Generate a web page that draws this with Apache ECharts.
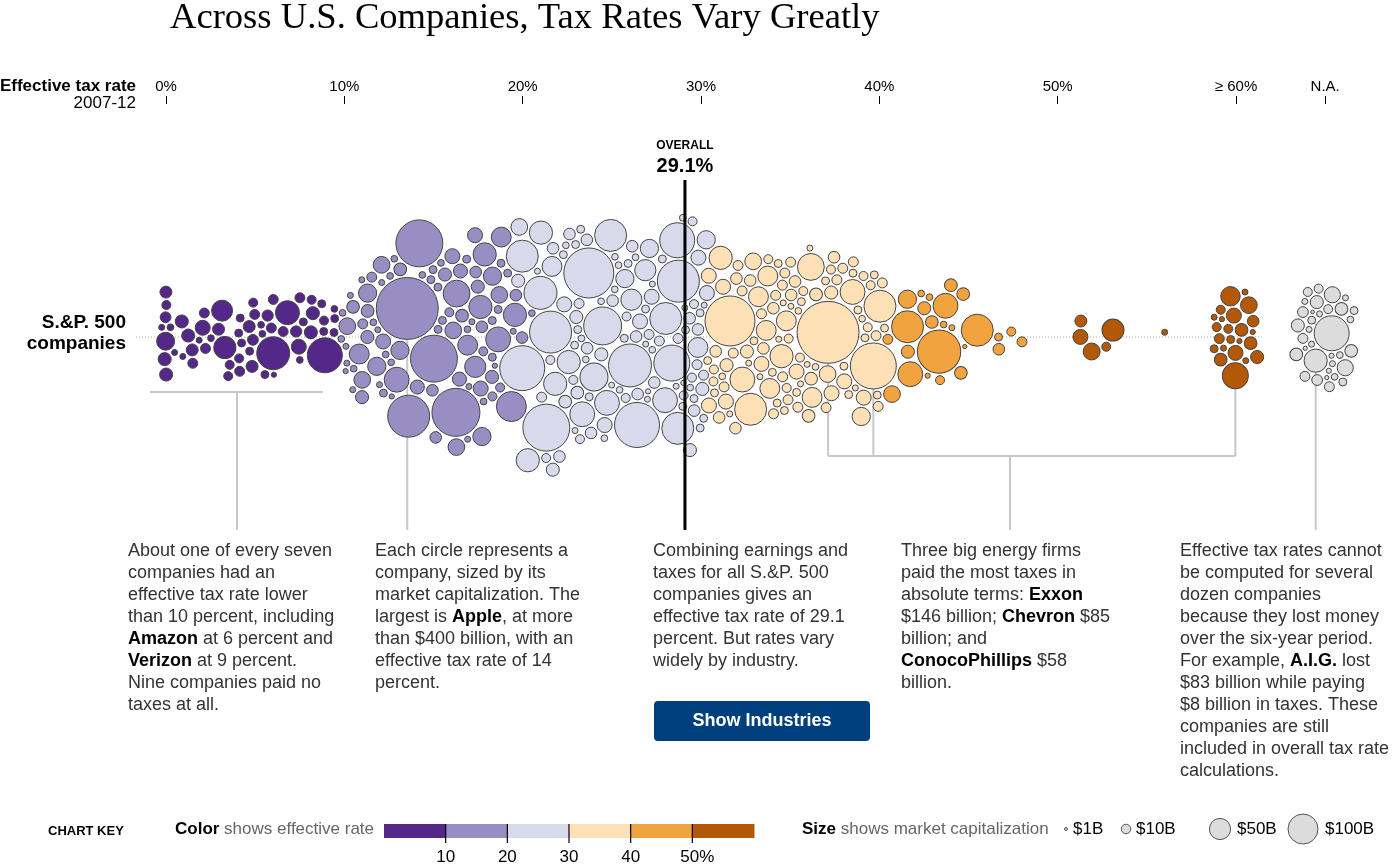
<!DOCTYPE html>
<html><head><meta charset="utf-8">
<script src="https://cdn.jsdelivr.net/npm/echarts@6/dist/echarts.min.js"></script>
<style>html,body{margin:0;padding:0;background:#fff}#chart{width:1400px;height:868px}</style>
</head><body><div id="chart"></div>
<script>
// ---------------- DATA (effective tax rate %, market cap $B) ----------------
// under 10%
const ratesA = [0,1.3,2.1,3.3,4.2,5.0,6.0,6.8,7.5,8.2, 9.4,0,0,0,1.5,0,1.0,0,0,0,
  0.9,1.5,1.9,2.3,2.1,2.8,2.9,3.5,3.1,3.6, 4.0,4.2,4.2,4.1,4.7,4.9,4.9,4.7,5.0,5.4,
  5.6,5.7,5.4,6.0,6.1,6.0,6.8,7.1,7.5,7.5, 7.6,8.3,8.2,8.9,8.5,8.9,9.0,9.5,9.6,0];
const capsA = [36,19,25,54,7,11,11,11,7,19, 7,4,13,4,11,16,4,19,9,19,
  19,16,4,11,11,5,16,9,49,9, 9,7,11,7,16,16,9,7,13,5,
  7,14,5,121,11,3,64,14,5,11, 25,19,9,136,7,9,7,5,7,5];
// 10-20%
const ratesB = [13.8,16.3,14.3,15.2,13.8,17.9,18.6,19.1,17.9,17.5, 18.8,16.1,16.9,18.8,19.7,18.3,11.0,12.0,11.7,13.1,
  13.3,10.5,11.2,12.2,12.4,11.6,11.2,11.0,10.8,16.2, 17.2,17.2,15.3,14.9,16.1,17.2,16.0,16.8,18.0,19.5,
  17.8,14.6,18.2,16.8,17.3,17.9,19.4,18.9,15.4,16.0, 15.8,14.8,14.0,13.2,14.5,15.5,16.5,17.5,17.2,18.5,
  12.8,12.6,13.0,12.7,12.6,11.4,10.3,10.0,10.4,10.8, 10.4,10.9,10.0,11.6,12.8,11.4,11.6,10.2,12.3,12.8,
  15.1,16.6,17.5,17.2,18.1,18.6,15.6,16.9,19.0,19.3, 16.5,14.5,17.8,18.3,19.1];
const capsB = [427,256,245,245,196,60,69,60,60,50, 44,80,44,31,100,37,44,37,37,69,
  37,31,31,31,25,19,18,19,18,31, 25,19,15,7,22,37,25,18,15,15,
  9,7,7,22,15,19,15,7,15,7, 9,22,18,5,7,19,31,25,9,7,
  5,4,5,4,5,4,4,5,5,4, 4,5,4,11,7,11,5,3,4,3,
  7,7,5,5,7,9,5,4,4,5, 4,5,4,3,7];
// 20-30%
const ratesC = [21.4,24.5,27.8,26.2,28.7,20.0,27.9,23.7,26.4,28.5, 21.8,20.8,24.9,28.7,20.1,24.2,23.1,21.1,21.8,22.5,
  26.4,27.9,25.6,26.6,24.5,27.6,20.6,21.7,26.1,24.9, 20.0,20.0,23.6,22.8,21.5,22.1,23.1,22.1,23.8,24.5,
  23.8,25.9,26.6,27.5,28.4,22.5,23.2,23.9,23.6,22.8, 21.6,23.4,23.7,22.1,21.5,21.9,24.7,25.4,25.6,26.2,
  26.9,25.9,26.6,25.4,24.9,26.3,25.6,24.9,23.5,23.3, 22.7,21.5,21.0,27.3,28.1,28.4,26.9,25.2,27.4,26.9,
  22.9,23.0,22.8,23.6,24.6,27.3,27.3,29.0,28.9,29.8, 26.0,24.6,27.7,
  29.2,29.9,29.6,29.9,29.2,29.9,29.8,29.8,29.5,29.6, 29.9,29.2,29.9,29.4,29.8,29.5,29.9,29.7,29.9,29.6,
  29.6,29.7,29.2];
const capsC = [245,160,114,205,136,225,144,278,225,196, 196,121,114,114,114,87,69,60,60,60,
  50,69,37,25,69,37,60,44,50,25, 31,19,15,15,9,7,19,18,15,19,
  7,15,15,25,11,9,7,15,5,25, 19,7,18,9,15,11,5,7,5,5,
  11,9,7,9,5,15,15,5,9,7, 11,15,4,15,7,7,3,5,11,4,
  5,4,5,7,5,4,4,4,5,7, 7,4,5,
  9,19,9,4,19,9,15,7,4,5, 44,7,7,25,11,11,25,15,7,15,
  3,37,9];
// 30-40%
const ratesD = [37.0,31.5,32.6,36.0,34.8,37.1,31.0,32.1,38.3,33.6, 33.8,33.9,34.4,36.3,39.7,39.6,33.0,33.3,32.3,30.9,
  31.9,31.4,30.5,31.2,31.5,30.6,31.4,32.1,32.1,32.9, 31.5,34.4,35.1,35.4,36.0,36.5,37.1,38.0,38.6,38.0,
  37.4,36.8,37.4,38.0,38.9,38.5,39.2,37.9,39.7,38.8, 37.1,30.6,31.5,32.9,34.3,34.9,35.4,34.3,34.8,35.6,
  36.0,33.9,34.5,35.0,34.2,34.9,33.8,33.6,32.8,32.9, 33.8,34.4,35.0,35.7,36.1,35.3,34.3,33.3,34.8,34.8,
  34.3,34.7,35.3,36.0,34.6,33.4,33.1,33.0,32.1,31.5, 30.6,39.0,38.4,30.2,30.0,39.7,39.9,39.3,39.9,39.6,
  39.9,39.3,39.8,37.2,38.3,38.8,36.7];
const capsD = [427,278,114,80,44,31,60,69,69,44, 44,44,60,44,114,235,44,25,19,25,
  19,25,15,15,11,25,9,15,15,11, 11,11,11,9,18,18,25,11,7,7,
  15,11,11,19,25,11,9,25,9,4, 7,9,4,15,9,5,9,7,15,4,
  4,7,7,4,15,7,9,7,4,11, 11,11,7,11,4,25,11,7,11,11,
  4,9,15,18,4,15,4,31,11,5, 25,37,7,7,7,7,11,5,7,7,
  11,7,11,9,7,9,5];
// 40-50%
const ratesE = [43.3,45.5,41.7,41.6,43.6,40.6,41.6,41.6,40.5,42.8, 43.4,44.0,42.6,44.5,44.5,42.7,43.5,42.2,42.7,44.0,
  44.6,46.7,47.4,48.0,46.5];
const capsE = [209,114,69,114,69,31,37,19,11,5, 9,4,19,18,18,18,5,5,3,18, 2,15,9,11,7];
// 50-60%
const ratesF = [51.3,51.9,53.1,51.3,52.7,56.0];
const capsF = [16,32,54,25,9,4];
// 60% or more (shown at the ">= 60%" column)
const ratesG = [60,60,60,60,60,60,60,60,60,60, 60,60,60,60,60,60,60,60,60,60, 60,60,60];
const capsG = [19,3,18,7,4,3,11,15,18,9, 3,7,31,4,9,9,25,42,18,4, 25,75,4];
// rate not available (lost money)
const capsNA = [136,60,29,29,19,18,13,19,18,18, 9,5,13,4,11,9,3,11,7,11, 7,5,4,4,3,4,5,2,9,4, 2,1.5,7,4];

const overallRate = 29.1;
const tickValues = [0, 10, 20, 30, 40, 50, 60, 65];
const tickLabels = ['0%', '10%', '20%', '30%', '40%', '50%', '\u2265 60%', 'N.A.'];
const bandEdges = [10, 20, 30, 40, 50];
const bandColors = ['#542788', '#998ec3', '#d8daeb', '#fee0b6', '#f1a340', '#b35806'];
const legendTicks = ['10', '20', '30', '40', '50%'];
const sizeLegendCaps = [1, 10, 50, 100];
const sizeLegendLabels = ['$1B', '$10B', '$50B', '$100B'];
const naColor = '#dcdcdc';
const NA_POS = 65, TOP_POS = 60;
// highlighted companies: [band index, index in band]
const highlighted = { apple: [1, 0], exxon: [3, 0], chevron: [3, 15], conoco: [6, 21], aig: [7, 1] };

// ---------------- helpers ----------------
const FONT = '"Liberation Sans", Arial, Helvetica, sans-serif';
function radiusOf(cap) { return 1.5 * Math.sqrt(cap); }
function colorOf(rate) {
  if (rate == null) return naColor;
  let i = 0; while (i < bandEdges.length && rate >= bandEdges[i]) i++;
  return bandColors[i];
}

const chart = echarts.init(document.getElementById('chart'), null, { renderer: 'canvas' });
chart.setOption({
  animation: false,
  grid: { left: 23.33, right: 21.33, top: 104, bottom: 298 },
  xAxis: {
    type: 'value', position: 'top', min: -8, max: 68,
    axisLine: { show: false, onZero: false }, splitLine: { show: false },
    axisTick: { show: true, customValues: tickValues, length: 8, lineStyle: { color: '#000', width: 1 } },
    axisLabel: { customValues: tickValues, formatter: v => tickLabels[tickValues.indexOf(v)],
      color: '#000', fontSize: 15, fontFamily: FONT, margin: 10 }
  },
  yAxis: { type: 'value', min: -233, max: 233, show: false },
  series: [{ type: 'scatter', data: [] }]
});

const bands = [[ratesA, capsA], [ratesB, capsB], [ratesC, capsC], [ratesD, capsD], [ratesE, capsE],
  [ratesF, capsF], [ratesG, capsG], [capsNA.map(() => null), capsNA]];
// horizontal / vertical pull of the layout for each group (main swarm, >=60 column, N.A. column)
const groupPullX = [1.0, 1.0, 1.0, 1.0, 1.0, 1.0, 0.2, 0.12];
const groupPullY = [0.035, 0.035, 0.035, 0.035, 0.035, 0.035, 0.04, 0.05];
const nodes = [];
const bandStart = [];
bands.forEach(([rs, cs], b) => {
  bandStart.push(nodes.length);
  rs.forEach((r, k) => {
    const xv = r == null ? NA_POS : Math.min(r, TOP_POS);
    const p = chart.convertToPixel({ gridIndex: 0 }, [xv, 0]);
    nodes.push({ rate: r, cap: cs[k], r: radiusOf(cs[k]), tx: p[0], ty: p[1], sx: groupPullX[b], sy: groupPullY[b] });
  });
});

// ---------------- force layout (beeswarm) ----------------
(function layout() {
  const n = nodes.length, PAD = 2.4;
  const X = new Float64Array(n), Y = new Float64Array(n), VX = new Float64Array(n), VY = new Float64Array(n);
  const R = new Float64Array(n), TX = new Float64Array(n), TY = new Float64Array(n);
  const SXs = new Float64Array(n), SYs = new Float64Array(n);
  const golden = Math.PI * (3 - Math.sqrt(5));
  for (let i = 0; i < n; i++) {
    R[i] = nodes[i].r; TX[i] = nodes[i].tx; TY[i] = nodes[i].ty; SXs[i] = nodes[i].sx; SYs[i] = nodes[i].sy;
    const rad = 10 * Math.sqrt(0.5 + i), ang = i * golden;
    X[i] = TX[i] + rad * Math.cos(ang) * 0.05; Y[i] = TY[i] + rad * Math.sin(ang) * 0.3;
  }
  function collide() {
    for (let i = 0; i < n; i++) {
      const xi = X[i] + VX[i], yi = Y[i] + VY[i], ri = R[i], ri2 = ri * ri;
      for (let j = i + 1; j < n; j++) {
        let dx = xi - (X[j] + VX[j]), dy = yi - (Y[j] + VY[j]);
        const rr = ri + R[j] + PAD;
        if (dx > rr || dx < -rr || dy > rr || dy < -rr) continue;
        let l = dx * dx + dy * dy;
        if (l < rr * rr) {
          if (l === 0) { dx = ((i % 7) - 3) * 1e-3 + 1e-4; dy = ((j % 5) - 2) * 1e-3 + 1e-4; l = dx * dx + dy * dy; }
          l = Math.sqrt(l);
          const k = (rr - l) / l * 0.7; dx *= k; dy *= k;
          const rj2 = R[j] * R[j], w = rj2 / (ri2 + rj2);
          VX[i] += dx * w; VY[i] += dy * w; VX[j] -= dx * (1 - w); VY[j] -= dy * (1 - w);
        }
      }
    }
  }
  let alpha = 1; const decay = 1 - Math.pow(0.001, 1 / 300);
  for (let t = 0; t < 300; t++) {
    alpha -= alpha * decay;
    for (let i = 0; i < n; i++) {
      VX[i] += (TX[i] - X[i]) * SXs[i] * alpha; VY[i] += (TY[i] - Y[i]) * SYs[i] * alpha;
    }
    collide(); collide();
    for (let i = 0; i < n; i++) { VX[i] *= 0.6; VY[i] *= 0.6; X[i] += VX[i]; Y[i] += VY[i]; }
  }
  for (let it = 0; it < 200; it++) {
    let any = false;
    for (let i = 0; i < n; i++) for (let j = i + 1; j < n; j++) {
      const dx = X[j] - X[i], dy = Y[j] - Y[i], rr = R[i] + R[j] + PAD * 0.6;
      if (Math.abs(dx) >= rr || Math.abs(dy) >= rr) continue;
      const d2 = dx * dx + dy * dy;
      if (d2 < rr * rr) {
        any = true;
        const d = Math.sqrt(d2) || 1e-3, push = (rr - d) / d;
        const w = R[j] * R[j] / (R[i] * R[i] + R[j] * R[j]);
        X[i] -= dx * push * w; Y[i] -= dy * push * w; X[j] += dx * push * (1 - w); Y[j] += dy * push * (1 - w);
      }
    }
    if (!any) break;
  }
  for (let i = 0; i < n; i++) { nodes[i].x = X[i]; nodes[i].y = Y[i]; }
})();

const data = nodes.map(nd => {
  const v = chart.convertFromPixel({ gridIndex: 0 }, [nd.x, nd.y]);
  return { value: [v[0], v[1]], symbolSize: 2 * nd.r, itemStyle: { color: colorOf(nd.rate) } };
});
const nodeOf = key => { const [b, k] = highlighted[key]; return nodes[bandStart[b] + k]; };

// ---------------- annotations ----------------
const G = [];
const LINE_C = '#c8c8c8';
function line(x1, y1, x2, y2, z, stroke, w) {
  G.push({ type: 'line', z: z || 1, silent: true, shape: { x1, y1, x2, y2 }, style: { stroke: stroke || LINE_C, lineWidth: w || 2 } });
}
function text(x, y, str, st, z) {
  G.push({ type: 'text', x, y, z: z || 50, silent: true, style: Object.assign({
    text: str, fill: '#000', fontSize: 15, fontFamily: FONT, fontWeight: 'normal',
    textAlign: 'left', align: 'left', textVerticalAlign: 'middle', verticalAlign: 'middle' }, st || {}) });
}
const centerY = chart.convertToPixel({ gridIndex: 0 }, [0, 0])[1];
// dotted baseline
G.push({ type: 'line', z: 0, silent: true, shape: { x1: 136, y1: centerY, x2: 1262, y2: centerY },
  style: { stroke: '#aaa', lineWidth: 1, lineDash: [1, 2] } });

// title and row labels
text(170, 18, 'Across U.S. Companies, Tax Rates Vary Greatly', { fontSize: 36.6, fontFamily: '"Liberation Serif", "Times New Roman", serif' });
text(136, 86, 'Effective tax rate', { fontSize: 17, fontWeight: 'bold', textAlign: 'right', align: 'right' });
text(136, 103, '2007-12', { fontSize: 17, textAlign: 'right', align: 'right' });
text(126, 323, 'S.&P. 500', { fontSize: 19, fontWeight: 'bold', textAlign: 'right', align: 'right' });
text(126, 344, 'companies', { fontSize: 19, fontWeight: 'bold', textAlign: 'right', align: 'right' });

// overall line
const ox = chart.convertToPixel({ gridIndex: 0 }, [overallRate, 0])[0];
line(ox, 180, ox, 530, 60, '#000', 3);
text(ox, 146, 'OVERALL', { fontSize: 12, fontWeight: 'bold', textAlign: 'center', align: 'center' });
text(ox, 166, overallRate.toFixed(1) + '%', { fontSize: 20, fontWeight: 'bold', textAlign: 'center', align: 'center' });

// callout lines
line(150, 392, 323, 392); line(237, 392, 237, 530);
const apple = nodeOf('apple'); line(apple.x, apple.y, apple.x, 530);
const ex = nodeOf('exxon'), ch = nodeOf('chevron'), co = nodeOf('conoco');
const BY = 456;
line(ex.x, ex.y, ex.x, BY); line(ch.x, ch.y, ch.x, BY); line(co.x, co.y, co.x, BY);
line(ex.x, BY, co.x, BY); line(1010, BY, 1010, 530);
const aig = nodeOf('aig'); line(aig.x, aig.y, aig.x, 530);

// paragraphs
const LH = 22;
const paraStyle = { fontSize: 18, lineHeight: LH, fill: '#333', verticalAlign: 'top', textVerticalAlign: 'top',
  rich: { b: { fontSize: 18, lineHeight: LH, fontWeight: 'bold', fill: '#000', fontFamily: FONT } } };
const paras = [
  [128, 'About one of every seven\ncompanies had an\neffective tax rate lower\nthan 10 percent, including\n{b|Amazon} at 6 percent and\n{b|Verizon} at 9 percent.\nNine companies paid no\ntaxes at all.'],
  [375, 'Each circle represents a\ncompany, sized by its\nmarket capitalization. The\nlargest is {b|Apple}, at more\nthan $400 billion, with an\neffective tax rate of 14\npercent.'],
  [653, 'Combining earnings and\ntaxes for all S.&P. 500\ncompanies gives an\neffective tax rate of 29.1\npercent. But rates vary\nwidely by industry.'],
  [901, 'Three big energy firms\npaid the most taxes in\nabsolute terms: {b|Exxon}\n$146 billion; {b|Chevron} $85\nbillion; and\n{b|ConocoPhillips} $58\nbillion.'],
  [1180, 'Effective tax rates cannot\nbe computed for several\ndozen companies\nbecause they lost money\nover the six-year period.\nFor example, {b|A.I.G.} lost\n$83 billion while paying\n$8 billion in taxes. These\ncompanies are still\nincluded in overall tax rate\ncalculations.']
];
paras.forEach(([x, s]) => text(x, 551 - LH / 2, s, paraStyle));

// button
G.push({ type: 'rect', z: 40, silent: true, shape: { x: 654, y: 701, width: 216, height: 40, r: 4 }, style: { fill: '#003f7d' } });
text(762, 721, 'Show Industries', { fontSize: 18, fontWeight: 'bold', fill: '#fff', textAlign: 'center', align: 'center' });

// chart key
text(48, 831, 'CHART KEY', { fontSize: 13, fontWeight: 'bold' });
text(175, 829, '{b|Color} shows effective rate', { fontSize: 17, fill: '#666',
  rich: { b: { fontSize: 17, fontWeight: 'bold', fill: '#000', fontFamily: FONT } } });
const barX = 384, barW = 370, segW = barW / bandColors.length;
bandColors.forEach((c, i) => G.push({ type: 'rect', z: 40, silent: true,
  shape: { x: barX + i * segW, y: 824, width: segW + 0.5, height: 14 }, style: { fill: c } }));
legendTicks.forEach((lab, i) => {
  const tx = barX + (i + 1) * segW;
  line(tx, 824, tx, 843, 45, '#000', 1.2);
  text(tx + (lab.indexOf('%') >= 0 ? 5 : 0), 857, lab, { fontSize: 17, textAlign: 'center', align: 'center' });
});
text(802, 829, '{b|Size} shows market capitalization', { fontSize: 17, fill: '#666',
  rich: { b: { fontSize: 17, fontWeight: 'bold', fill: '#000', fontFamily: FONT } } });
const sizeX = [1066, 1126, 1220, 1303], sizeLabX = [1073, 1136, 1237, 1325];
sizeLegendCaps.forEach((c, i) => {
  G.push({ type: 'circle', z: 40, silent: true, shape: { cx: sizeX[i], cy: 829, r: radiusOf(c) },
    style: { fill: '#dcdcdc', stroke: '#555', lineWidth: 1 } });
  text(sizeLabX[i], 829, sizeLegendLabels[i], { fontSize: 17 });
});

chart.setOption({
  series: [{ type: 'scatter', z: 2, data, itemStyle: { borderColor: '#444', borderWidth: 1, opacity: 1 },
    emphasis: { disabled: true } }],
  graphic: { elements: G }
});
</script>
</body></html>
